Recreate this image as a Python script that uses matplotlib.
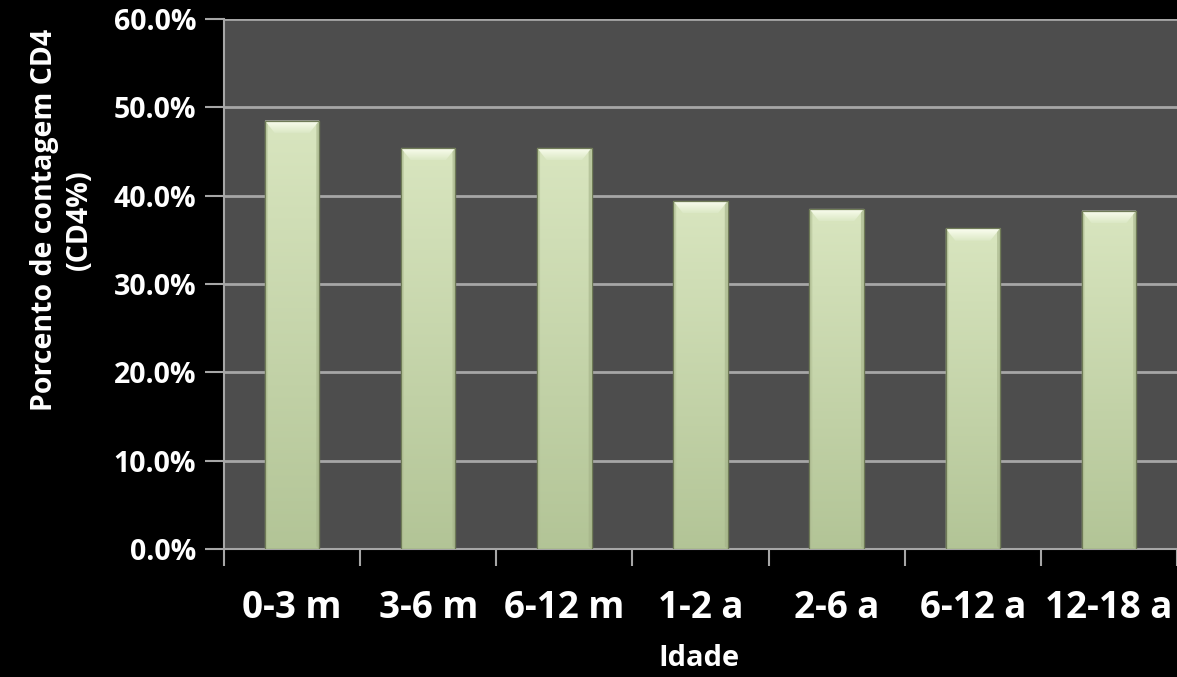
import matplotlib
matplotlib.use("Agg")
import matplotlib.pyplot as plt
import numpy as np
from matplotlib.patches import Polygon, Rectangle
from matplotlib.ticker import FuncFormatter, MultipleLocator

# CD4 percentage by age group
age_groups = ["0-3 m", "3-6 m", "6-12 m", "1-2 a", "2-6 a", "6-12 a", "12-18 a"]
cd4_percent = [48.5, 45.4, 45.4, 39.4, 38.5, 36.3, 38.3]

FONT = "Open Sans"
BG = "#000000"
PLOT_BG = "#4d4d4d"
GRID = "#a6a6a6"

fig = plt.figure(figsize=(11.77, 6.77), dpi=100, facecolor=BG)
ax = fig.add_axes([224 / 1177, 128 / 677, 953 / 1177, 530 / 677])
ax.set_facecolor(PLOT_BG)

x = np.arange(len(age_groups))
bar_w = 0.40
bars = ax.bar(x, cd4_percent, width=bar_w, color="#c8d8a8", edgecolor="#7d8a63",
              linewidth=0.8, zorder=3)

# Vertical gradient fill plus a bevelled top on every bar
grad = np.linspace(0, 1, 256).reshape(-1, 1)
top_c = np.array([0.85, 0.90, 0.75])
bot_c = np.array([0.70, 0.77, 0.59])
img = (top_c * (1 - grad[..., None]) + bot_c * grad[..., None]).reshape(256, 1, 3)

bevel = np.linspace(0, 1, 64).reshape(-1, 1)
bev_top = np.array([0.99, 1.0, 0.95])
bev_bot = np.array([0.86, 0.91, 0.77])
bev_img = (bev_top * (1 - bevel[..., None]) + bev_bot * bevel[..., None]).reshape(64, 1, 3)

for b in bars:
    x0, w, h = b.get_x(), b.get_width(), b.get_height()
    im = ax.imshow(img, extent=(x0, x0 + w, 0, h), aspect="auto", zorder=3.5,
                   interpolation="bicubic")
    im.set_clip_path(b)
    inset_x = w * 0.18
    inset_y = 1.4
    # top bevel
    bev = Polygon([(x0, h), (x0 + w, h), (x0 + w - inset_x, h - inset_y),
                   (x0 + inset_x, h - inset_y)], closed=True,
                  facecolor="none", edgecolor="none", zorder=4)
    ax.add_patch(bev)
    bim = ax.imshow(bev_img, extent=(x0, x0 + w, h - inset_y, h), aspect="auto",
                    zorder=4, interpolation="bicubic")
    bim.set_clip_path(bev)
    # side shading
    ax.add_patch(Polygon([(x0, h), (x0 + inset_x * 0.3, h - inset_y * 0.3),
                          (x0 + inset_x * 0.3, 0.3), (x0, 0)], closed=True,
                         facecolor="#b3c196", edgecolor="none", alpha=0.6, zorder=4))
    ax.add_patch(Polygon([(x0 + w, h), (x0 + w - inset_x * 0.3, h - inset_y * 0.3),
                          (x0 + w - inset_x * 0.3, 0.3), (x0 + w, 0)], closed=True,
                         facecolor="#a3b187", edgecolor="none", alpha=0.6, zorder=4))
    ax.add_patch(Rectangle((x0, 0), w, h, facecolor="none", edgecolor="#6f7b57",
                           linewidth=0.9, zorder=4.5))

ax.set_xlim(-0.5, len(age_groups) - 0.5)
ax.set_ylim(0, 60)
ax.yaxis.set_major_locator(MultipleLocator(10))
ax.yaxis.set_major_formatter(FuncFormatter(lambda v, p: f"{v:.1f}%"))
ax.grid(axis="y", color=GRID, linewidth=2, zorder=1)
ax.set_axisbelow(True)

ax.set_xticks(np.arange(len(age_groups) + 1) - 0.5, minor=False)
ax.set_xticklabels([])
ax.set_xticks(x, minor=True)
ax.set_xticklabels(age_groups, minor=True)
ax.tick_params(axis="x", which="minor", length=0, pad=29, colors="white",
               labelsize=26.5)
ax.tick_params(axis="x", which="major", length=12, width=1.5, color=GRID,
               direction="out")
ax.tick_params(axis="y", length=14, width=1.5, color=GRID, direction="out",
               labelsize=20.5, labelcolor="white", pad=6)
for lbl in ax.get_xticklabels(minor=True) + ax.get_yticklabels():
    lbl.set_fontfamily(FONT)
    lbl.set_fontweight("bold")

for side in ("top", "right"):
    ax.spines[side].set_visible(False)
for side in ("left", "bottom"):
    ax.spines[side].set_color(GRID)
    ax.spines[side].set_linewidth(1.5)

fig.text(62 / 1177, 1 - 220 / 677, "Porcento de contagem CD4\n(CD4%)", rotation=90,
         ha="center", va="center", multialignment="center", color="white",
         fontsize=20.5, fontweight="bold", fontfamily=FONT, linespacing=1.25)
fig.text(699 / 1177, 1 - 659 / 677, "Idade", ha="center", va="center",
         color="white", fontsize=21, fontweight="bold", fontfamily=FONT)

fig.savefig("out.png", dpi=100, facecolor=BG)
